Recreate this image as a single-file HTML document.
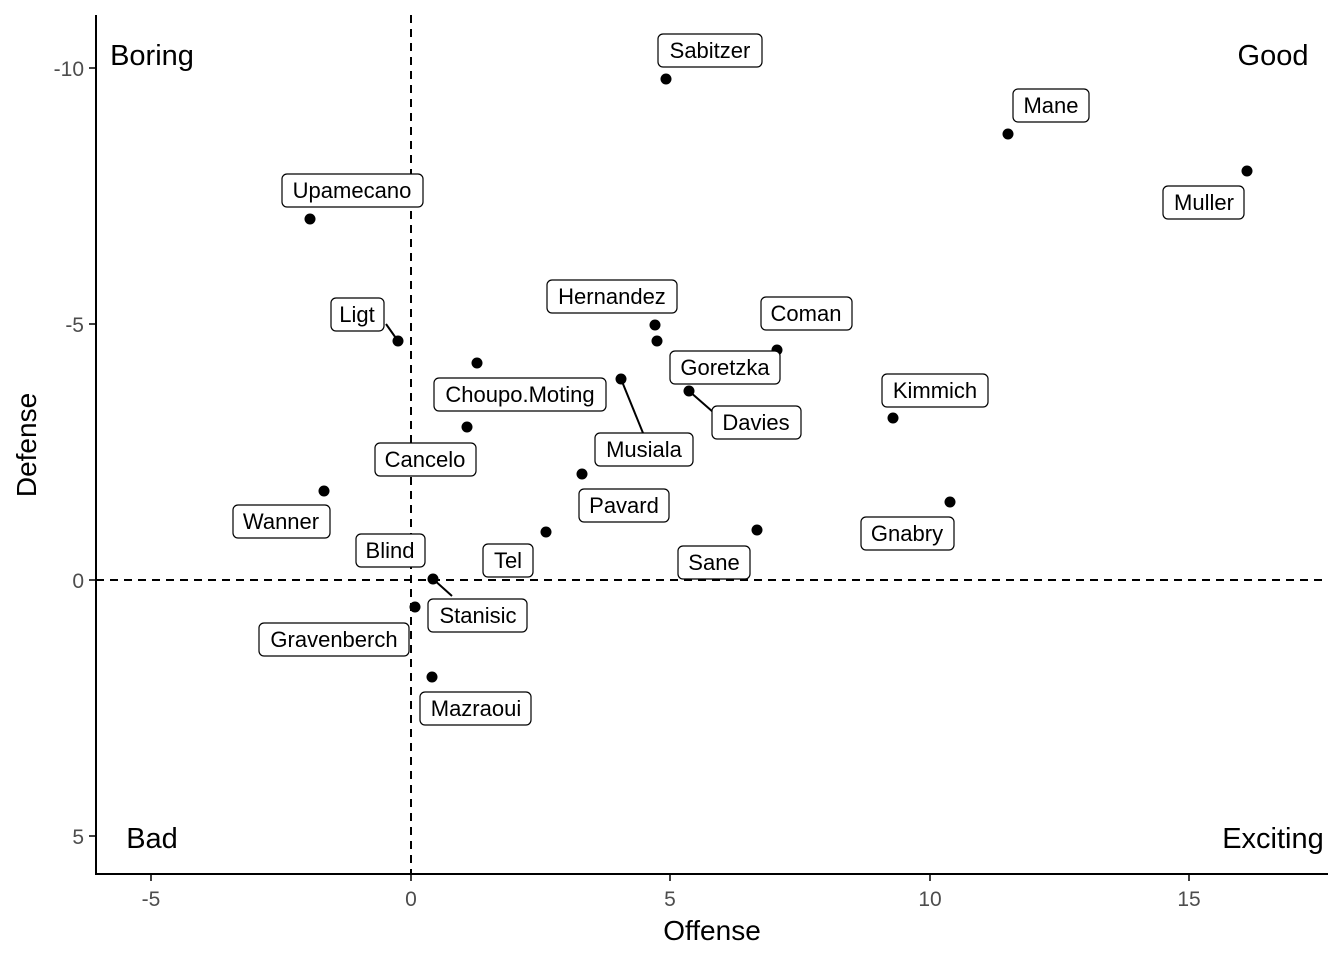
<!DOCTYPE html>
<html><head><style>body{margin:0;background:#fff}svg{display:block}text{font-family:"Liberation Sans",Arial,sans-serif}</style></head>
<body>
<svg width="1344" height="960" xmlns="http://www.w3.org/2000/svg">
<rect width="1344" height="960" fill="#fff"/>
<line x1="96" y1="15" x2="96" y2="875" stroke="#000" stroke-width="2"/>
<line x1="95" y1="874" x2="1328" y2="874" stroke="#000" stroke-width="2"/>
<g stroke="#000" stroke-width="1.5">
<line x1="151" y1="874" x2="151" y2="881"/><line x1="411" y1="874" x2="411" y2="881"/><line x1="670" y1="874" x2="670" y2="881"/><line x1="930" y1="874" x2="930" y2="881"/><line x1="1189" y1="874" x2="1189" y2="881"/>
<line x1="89" y1="68" x2="96" y2="68"/><line x1="89" y1="324" x2="96" y2="324"/><line x1="89" y1="580" x2="96" y2="580"/><line x1="89" y1="836" x2="96" y2="836"/>
</g>
<g font-size="21" fill="#4d4d4d" text-anchor="middle">
<text x="151" y="906">-5</text><text x="411" y="906">0</text><text x="670" y="906">5</text><text x="930" y="906">10</text><text x="1189" y="906">15</text>
</g>
<g font-size="21" fill="#4d4d4d" text-anchor="end">
<text x="84" y="76">-10</text><text x="84" y="332">-5</text><text x="84" y="588">0</text><text x="84" y="844">5</text>
</g>
<text x="712" y="940" font-size="28" text-anchor="middle">Offense</text>
<text transform="translate(36,445) rotate(-90)" font-size="28" text-anchor="middle">Defense</text>
<line x1="411" y1="15" x2="411" y2="874" stroke="#000" stroke-width="2" stroke-dasharray="8,6"/>
<line x1="96" y1="580" x2="1328" y2="580" stroke="#000" stroke-width="2" stroke-dasharray="8,6"/>
<g font-size="29" text-anchor="middle">
<text x="152" y="65">Boring</text><text x="1273" y="65">Good</text><text x="152" y="848">Bad</text><text x="1273" y="848">Exciting</text>
</g>
<g stroke="#000" stroke-width="2">
<line x1="398" y1="341" x2="386" y2="324"/>
<line x1="777" y1="350" x2="768" y2="358"/>
<line x1="621" y1="379" x2="643" y2="433"/>
<line x1="689" y1="391" x2="713" y2="412"/>
<line x1="433" y1="579" x2="452" y2="596"/>
</g>
<g fill="#000">
<circle cx="666" cy="79" r="5.5"/><circle cx="1008" cy="134" r="5.5"/><circle cx="1247" cy="171" r="5.5"/>
<circle cx="310" cy="219" r="5.5"/><circle cx="398" cy="341" r="5.5"/><circle cx="655" cy="325" r="5.5"/>
<circle cx="657" cy="341" r="5.5"/><circle cx="777" cy="350" r="5.5"/><circle cx="477" cy="363" r="5.5"/>
<circle cx="621" cy="379" r="5.5"/><circle cx="689" cy="391" r="5.5"/><circle cx="893" cy="418" r="5.5"/>
<circle cx="467" cy="427" r="5.5"/><circle cx="582" cy="474" r="5.5"/><circle cx="324" cy="491" r="5.5"/>
<circle cx="950" cy="502" r="5.5"/><circle cx="546" cy="532" r="5.5"/><circle cx="757" cy="530" r="5.5"/>
<circle cx="433" cy="579" r="5.5"/><circle cx="415" cy="607" r="5.5"/><circle cx="432" cy="677" r="5.5"/>
</g>
<g font-size="22" text-anchor="middle">
<g fill="#fff" stroke="#000" stroke-width="1.2">
<rect x="658" y="34" width="104" height="33" rx="5"/>
<rect x="1013" y="89" width="76" height="33" rx="5"/>
<rect x="1163" y="186" width="81" height="33" rx="5"/>
<rect x="282" y="174" width="141" height="33" rx="5"/>
<rect x="331" y="298" width="53" height="33" rx="5"/>
<rect x="547" y="280" width="130" height="33" rx="5"/>
<rect x="761" y="297" width="91" height="33" rx="5"/>
<rect x="670" y="351" width="110" height="33" rx="5"/>
<rect x="434" y="378" width="172" height="33" rx="5"/>
<rect x="595" y="433" width="98" height="33" rx="5"/>
<rect x="712" y="406" width="89" height="33" rx="5"/>
<rect x="882" y="374" width="106" height="33" rx="5"/>
<rect x="375" y="443" width="101" height="33" rx="5"/>
<rect x="579" y="489" width="90" height="33" rx="5"/>
<rect x="233" y="505" width="97" height="33" rx="5"/>
<rect x="861" y="517" width="93" height="33" rx="5"/>
<rect x="483" y="544" width="50" height="33" rx="5"/>
<rect x="678" y="546" width="72" height="33" rx="5"/>
<rect x="356" y="534" width="69" height="33" rx="5"/>
<rect x="428" y="599" width="99" height="33" rx="5"/>
<rect x="259" y="623" width="150" height="33" rx="5"/>
<rect x="420" y="692" width="111" height="33" rx="5"/>
</g>
<text x="710" y="58">Sabitzer</text><text x="1051" y="113">Mane</text><text x="1204" y="210">Muller</text>
<text x="352" y="198">Upamecano</text><text x="357" y="322">Ligt</text><text x="612" y="304">Hernandez</text>
<text x="806" y="321">Coman</text><text x="725" y="375">Goretzka</text><text x="520" y="402">Choupo.Moting</text>
<text x="644" y="457">Musiala</text><text x="756" y="430">Davies</text><text x="935" y="398">Kimmich</text>
<text x="425" y="467">Cancelo</text><text x="624" y="513">Pavard</text><text x="281" y="529">Wanner</text>
<text x="907" y="541">Gnabry</text><text x="508" y="568">Tel</text><text x="714" y="570">Sane</text>
<text x="390" y="558">Blind</text><text x="478" y="623">Stanisic</text><text x="334" y="647">Gravenberch</text>
<text x="476" y="716">Mazraoui</text>
</g>
</svg>
</body></html>
